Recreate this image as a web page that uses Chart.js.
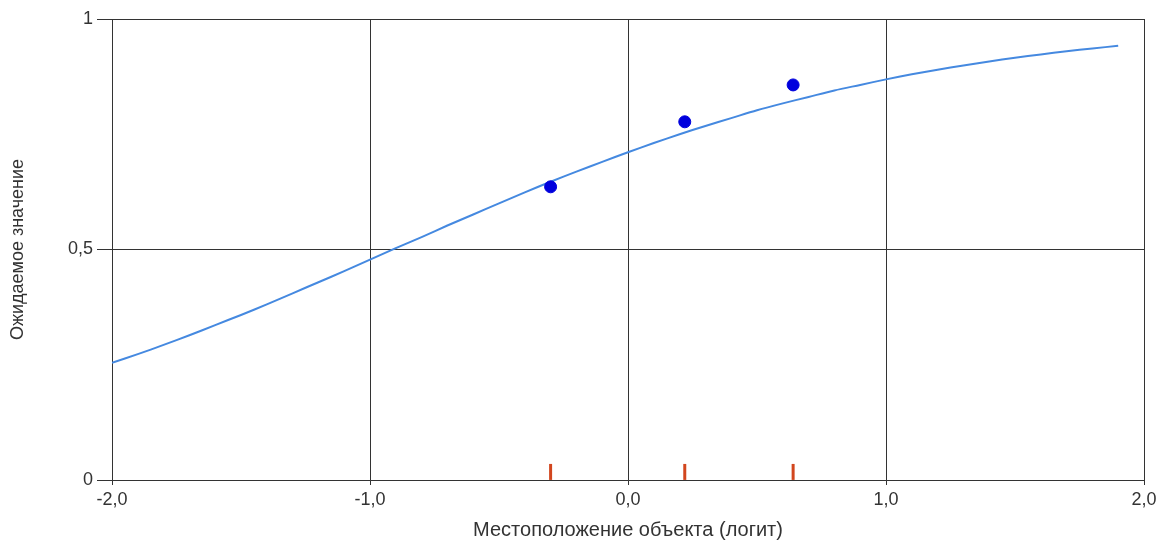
<!DOCTYPE html>
<html>
<head>
<meta charset="utf-8">
<script src="https://cdn.jsdelivr.net/npm/chart.js@4/dist/chart.umd.min.js"></script>
<style>
html,body{margin:0;padding:0;background:#fff;}
#wrap{width:1166px;height:542px;}
</style>
</head>
<body>
<div id="wrap"><canvas id="c" width="1166" height="542"></canvas></div>
<script>
const curveX = [-2.0,-1.9,-1.8,-1.7,-1.6,-1.5,-1.4,-1.3,-1.2,-1.1,-1.0,-0.9,-0.8,-0.7,-0.6,-0.5,-0.4,-0.3,-0.2,-0.1,0.0,0.1,0.2,0.3,0.4,0.5,0.6,0.7,0.8,0.9,1.0,1.1,1.2,1.3,1.4,1.5,1.6,1.7,1.8,1.9];
const curveY = [0.254,0.273,0.293,0.314,0.336,0.358,0.381,0.405,0.429,0.453,0.478,0.503,0.527,0.552,0.576,0.600,0.624,0.647,0.669,0.690,0.711,0.731,0.750,0.768,0.785,0.802,0.817,0.831,0.845,0.857,0.869,0.880,0.890,0.899,0.908,0.916,0.923,0.930,0.936,0.942];
const obsX = [-0.30, 0.22, 0.64];
const obsY = [0.636, 0.777, 0.857];
const rugY = [0.0175, 0.0175, 0.0175];
const xTicks = [-2, -1, 0, 1, 2];
const yTicks = [0, 0.5, 1];
const xTitle = 'Местоположение объекта (логит)';
const yTitle = 'Ожидаемое значение';

const fmtX = v => v.toFixed(1).replace('.', ',');
const fmtY = v => String(v).replace('.', ',');

new Chart(document.getElementById('c'), {
  type: 'scatter',
  data: {
    datasets: [
      {
        type: 'line',
        data: curveX.map((x, i) => ({x, y: curveY[i]})),
        borderColor: '#4589e0',
        borderWidth: 2,
        pointRadius: 0,
        tension: 0.3,
        fill: false,
        order: 2
      },
      {
        data: obsX.map((x, i) => ({x, y: obsY[i]})),
        backgroundColor: '#0000dd',
        borderColor: '#0000dd',
        pointRadius: 6,
        pointHoverRadius: 6,
        order: 1
      },
      {
        data: obsX.map((x, i) => ({x, y: rugY[i]})),
        pointStyle: 'line',
        rotation: 90,
        pointRadius: 8,
        pointHoverRadius: 8,
        borderColor: '#d2461e',
        borderWidth: 3,
        order: 1
      }
    ]
  },
  options: {
    responsive: false,
    animation: false,
    events: [],
    layout: {padding: {top: 19, right: 22, left: 0, bottom: 0}},
    plugins: {legend: {display: false}, tooltip: {enabled: false}},
    scales: {
      x: {
        type: 'linear',
        min: -2, max: 2,
        afterBuildTicks: s => { s.ticks = xTicks.map(v => ({value: v})); },
        afterFit: s => { s.height = 62; },
        grid: {color: '#333', lineWidth: 1, tickLength: 5, drawTicks: true},
        border: {color: '#333', width: 1},
        ticks: {
          color: '#333', padding: 4,
          font: {family: 'Liberation Sans, Arial', size: 18},
          callback: v => fmtX(v),
          maxRotation: 0
        },
        title: {
          display: true, text: xTitle, color: '#333',
          font: {family: 'Liberation Sans, Arial', size: 20},
          padding: {top: 0, bottom: 0}
        }
      },
      y: {
        type: 'linear',
        min: 0, max: 1,
        afterBuildTicks: s => { s.ticks = yTicks.map(v => ({value: v})); },
        afterFit: s => { s.width = 112; },
        grid: {color: '#333', lineWidth: 1, tickLength: 15, drawTicks: true},
        border: {color: '#333', width: 1},
        ticks: {
          color: '#333', padding: 4,
          font: {family: 'Liberation Sans, Arial', size: 18},
          callback: v => fmtY(v)
        },
        title: {
          display: true, text: yTitle, color: '#333',
          font: {family: 'Liberation Sans, Arial', size: 18},
          padding: {top: 7, bottom: 0}
        }
      }
    }
  }
});
</script>
</body>
</html>
